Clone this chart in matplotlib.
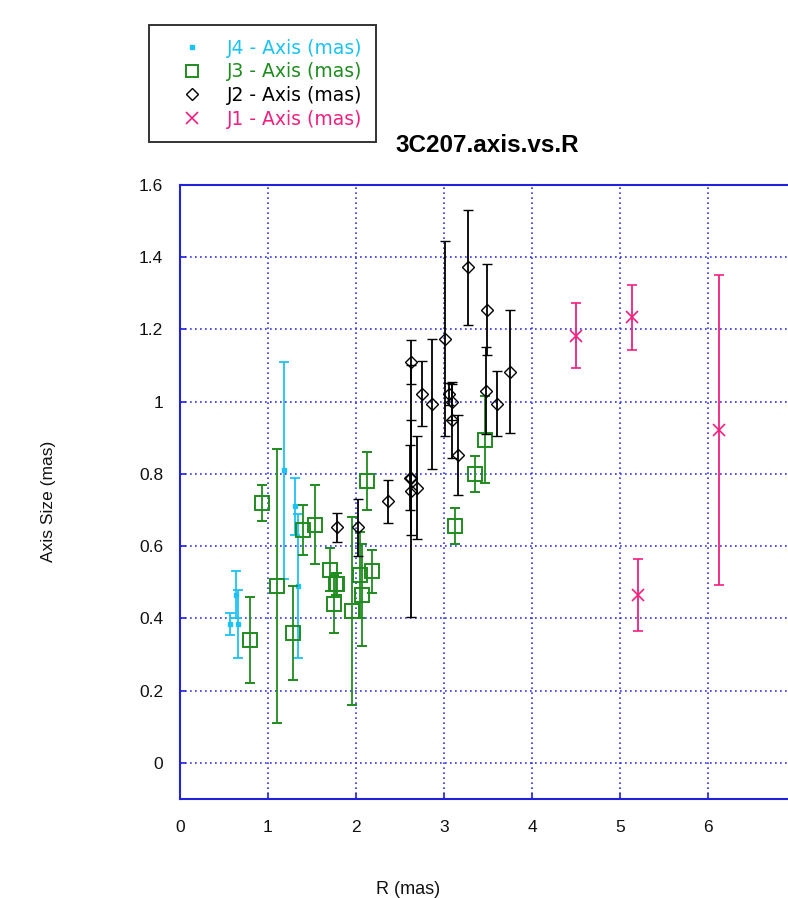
import matplotlib
matplotlib.use("Agg")
import matplotlib.pyplot as plt
from matplotlib.lines import Line2D
from matplotlib.ticker import FuncFormatter

plt.rcParams['font.family'] = ['Liberation Sans', 'DejaVu Sans']

# ---- data ----
x4 = [0.57, 0.64, 0.66, 1.18, 1.31, 1.34]
y4 = [0.385, 0.465, 0.385, 0.81, 0.71, 0.49]
e4 = [0.03, 0.065, 0.095, 0.30, 0.08, 0.20]

x3 = [0.80, 0.93, 1.105, 1.28, 1.40, 1.53, 1.70, 1.75, 1.77, 1.78, 1.96, 2.05, 2.07, 2.12, 2.18, 3.12, 3.35, 3.47]
y3 = [0.34, 0.72, 0.49, 0.36, 0.645, 0.66, 0.535, 0.44, 0.495, 0.495, 0.42, 0.52, 0.465, 0.78, 0.53, 0.655, 0.80, 0.895]
e3 = [0.12, 0.05, 0.38, 0.13, 0.07, 0.11, 0.06, 0.08, 0.03, 0.03, 0.26, 0.12, 0.14, 0.08, 0.06, 0.05, 0.05, 0.12]

x2 = [1.78, 2.02, 2.36, 2.62, 2.62, 2.61, 2.63, 2.69, 2.75, 2.86, 3.01, 3.06, 3.09, 3.09, 3.16, 3.27, 3.49, 3.48, 3.60, 3.745]
y2 = [0.652, 0.652, 0.724, 1.11, 0.79, 0.79, 0.753, 0.762, 1.022, 0.994, 1.174, 1.022, 1.0, 0.95, 0.853, 1.372, 1.255, 1.031, 0.994, 1.083]
e2 = [0.04, 0.08, 0.06, 0.06, 0.16, 0.09, 0.35, 0.143, 0.09, 0.18, 0.27, 0.03, 0.05, 0.105, 0.11, 0.16, 0.125, 0.12, 0.09, 0.17]

x1 = [4.495, 5.14, 5.21, 6.12]
y1 = [1.183, 1.234, 0.465, 0.922]
e1 = [0.09, 0.09, 0.10, 0.43]

labels = ['J4 - Axis (mas)', 'J3 - Axis (mas)', 'J2 - Axis (mas)', 'J1 - Axis (mas)']
xticks = [0, 1, 2, 3, 4, 5, 6]
yticks = [0, 0.2, 0.4, 0.6, 0.8, 1.0, 1.2, 1.4, 1.6]

c4, c3, c2, c1 = '#1cc3f2', '#1f8c1f', '#000000', '#f0207f'
blue = '#2222dd'

W, H = 788, 898
fig = plt.figure(figsize=(W / 100, H / 100), dpi=100)
left, right, top, bottom = 180, 796, 185, 799
ax = fig.add_axes([left / W, 1 - bottom / H, (right - left) / W, (bottom - top) / H])

ax.set_xlim(0, 7)
ax.set_ylim(-0.1, 1.6)

eb = dict(linestyle='none', capsize=3.5, elinewidth=1.3, capthick=1.3)
ax.errorbar(x4, y4, yerr=e4, color=c4, marker='s', ms=3.5, mfc=c4, mec=c4, zorder=3, **eb)
ax.errorbar(x3, y3, yerr=e3, color=c3, marker='s', ms=10, mfc='none', mec=c3, mew=1.4, zorder=4, **eb)
ax.errorbar(x2, y2, yerr=e2, color=c2, marker='D', ms=6, mfc='none', mec=c2, mew=1.0, zorder=5, **eb)
ax.errorbar(x1, y1, yerr=e1, color=c1, marker='x', ms=9, mec=c1, mew=1.2, zorder=6, **eb)

ax.set_xticks(xticks)
ax.set_yticks(yticks)
ax.yaxis.set_major_formatter(FuncFormatter(lambda v, p: '%g' % round(v, 2)))
ax.tick_params(axis='both', direction='in', length=4, width=1.2, color=blue,
               labelsize=12.5, labelcolor='#111111')
ax.tick_params(axis='x', pad=15)
ax.tick_params(axis='y', pad=12)
ax.grid(True, color='#3333ee', linestyle=(0, (1, 2)), linewidth=1.2)
ax.set_axisbelow(True)
for s in ['left', 'bottom', 'top', 'right']:
    ax.spines[s].set_color(blue)
    ax.spines[s].set_linewidth(1.5)

fig.text(48 / W, 1 - 501 / H, 'Axis Size (mas)', rotation=90, ha='center', va='center', fontsize=12.5, color='#111111')
fig.text(408 / W, 1 - 890 / H, 'R (mas)', ha='center', va='center', fontsize=13, color='#111111')
fig.text(487 / W, 1 - 145 / H, '3C207.axis.vs.R', ha='center', va='center', fontsize=17.5, fontweight='bold')

handles = [
    Line2D([], [], linestyle='none', marker='s', ms=3.5, color=c4),
    Line2D([], [], linestyle='none', marker='s', ms=8, mfc='none', mec=c3, mew=1.4),
    Line2D([], [], linestyle='none', marker='D', ms=6, mfc='none', mec=c2, mew=1.0),
    Line2D([], [], linestyle='none', marker='x', ms=8, mec=c1, mew=1.2),
]
leg = fig.legend(handles, labels, loc='upper left', bbox_to_anchor=(149 / W, 1 - 25 / H),
                 borderaxespad=0, frameon=True, fancybox=False,
                 prop={'family': 'DejaVu Sans', 'size': 13.5},
                 borderpad=0.72, handlelength=3.1, handletextpad=0.32, labelspacing=0.25,
                 labelcolor=[c4, c3, c2, c1])
leg.get_frame().set_edgecolor('black')
leg.get_frame().set_linewidth(1.4)

fig.savefig('out.png', dpi=100)
